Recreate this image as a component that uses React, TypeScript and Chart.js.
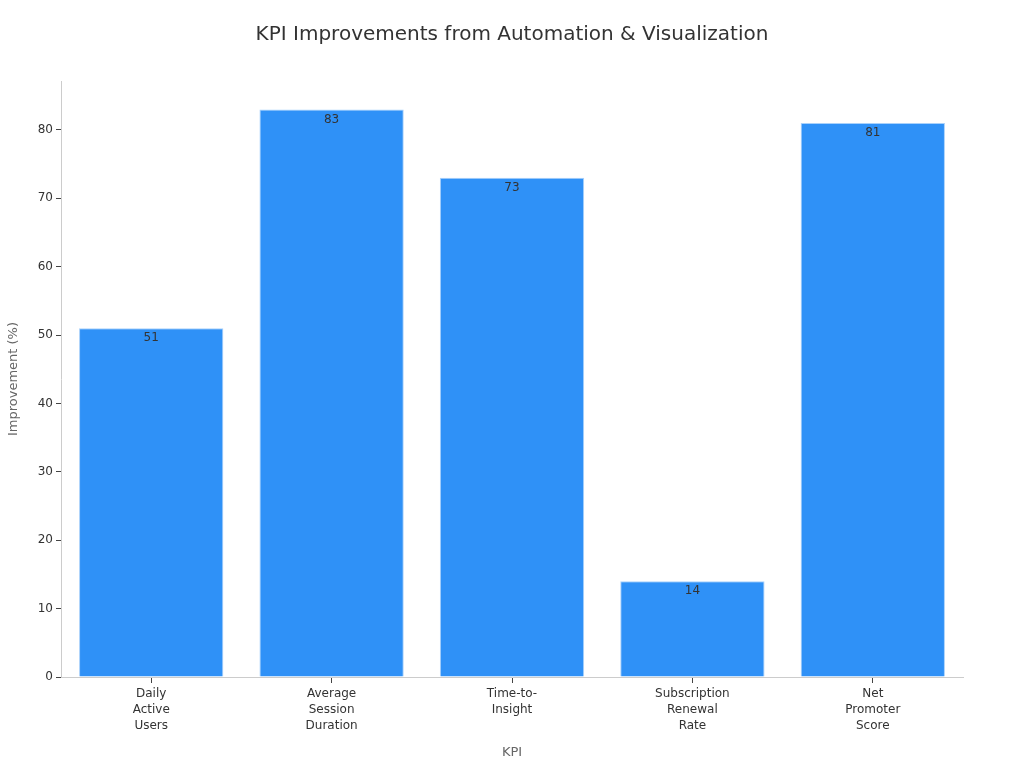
import React, { useEffect, useRef } from "react";
import { Chart, registerables } from "chart.js";

Chart.register(...registerables);

const categories: string[][] = [
  ["Daily", "Active", "Users"],
  ["Average", "Session", "Duration"],
  ["Time-to-", "Insight"],
  ["Subscription", "Renewal", "Rate"],
  ["Net", "Promoter", "Score"],
];
const improvements: number[] = [51, 83, 73, 14, 81];
const yTicks: number[] = [0, 10, 20, 30, 40, 50, 60, 70, 80];

const FONT = "'DejaVu Sans', sans-serif";

const valueLabels = {
  id: "valueLabels",
  afterDatasetsDraw(chart: any) {
    const ctx = chart.ctx;
    const meta = chart.getDatasetMeta(0);
    ctx.save();
    ctx.font = `12px ${FONT}`;
    ctx.fillStyle = "#333333";
    ctx.textAlign = "center";
    ctx.textBaseline = "middle";
    meta.data.forEach((bar: any, i: number) => {
      ctx.fillText(String(improvements[i]), bar.x, bar.y + 10);
    });
    ctx.restore();
  },
};

export default function App() {
  const ref = useRef<HTMLCanvasElement | null>(null);
  useEffect(() => {
    document.body.style.margin = "0";
    const chart = new Chart(ref.current!, {
      type: "bar",
      data: {
        labels: categories as any,
        datasets: [
          {
            data: improvements,
            backgroundColor: "#2f91f7",
            borderColor: "#a9d1fb",
            borderWidth: 1,
            barPercentage: 0.8,
            categoryPercentage: 1.0,
          },
        ],
      },
      plugins: [valueLabels],
      options: {
        animation: false,
        responsive: false,
        devicePixelRatio: 1,
        layout: { padding: 0 },
        plugins: {
          legend: { display: false },
          tooltip: { enabled: false },
          title: {
            display: true,
            text: "KPI Improvements from Automation & Visualization",
            color: "#333333",
            font: { family: FONT, size: 20, weight: "normal" },
            padding: { top: 23, bottom: 34 },
          },
        },
        scales: {
          x: {
            grid: { display: true, offset: false, drawOnChartArea: false, drawTicks: true, tickLength: 6, color: "#444444" },
            border: { display: true, color: "#cccccc" },
            ticks: {
              color: "#333333",
              font: { family: FONT, size: 12, lineHeight: 1.34 },
              padding: 3,
              maxRotation: 0,
              autoSkip: false,
            },
            title: {
              display: true,
              text: "KPI",
              color: "#666666",
              font: { family: FONT, size: 13 },
              padding: { top: 6, bottom: 8 },
            },
            afterFit: (s: any) => {
              s.height = 91;
            },
          },
          y: {
            min: 0,
            max: 87.15,
            afterBuildTicks: (s: any) => {
              s.ticks = yTicks.map((v) => ({ value: v }));
            },
            grid: { display: true, drawOnChartArea: false, drawTicks: true, tickLength: 5, color: "#444444" },
            border: { display: true, color: "#cccccc" },
            ticks: {
              color: "#333333",
              font: { family: FONT, size: 12 },
              padding: 3,
            },
            title: {
              display: true,
              text: "Improvement (%)",
              color: "#666666",
              font: { family: FONT, size: 13 },
              padding: { top: 6, bottom: 6 },
            },
            afterFit: (s: any) => {
              s.width = 61;
            },
          },
          yRight: {
            position: "right",
            display: true,
            grid: { display: false, drawTicks: false },
            border: { display: false },
            ticks: { display: false },
            afterFit: (s: any) => {
              s.width = 61;
            },
          },
        },
      },
    });
    return () => chart.destroy();
  }, []);
  return (
    <div style={{ width: 1024, height: 768 }}>
      <canvas ref={ref} width={1024} height={768} style={{ width: 1024, height: 768, display: "block" }} />
    </div>
  );
}
